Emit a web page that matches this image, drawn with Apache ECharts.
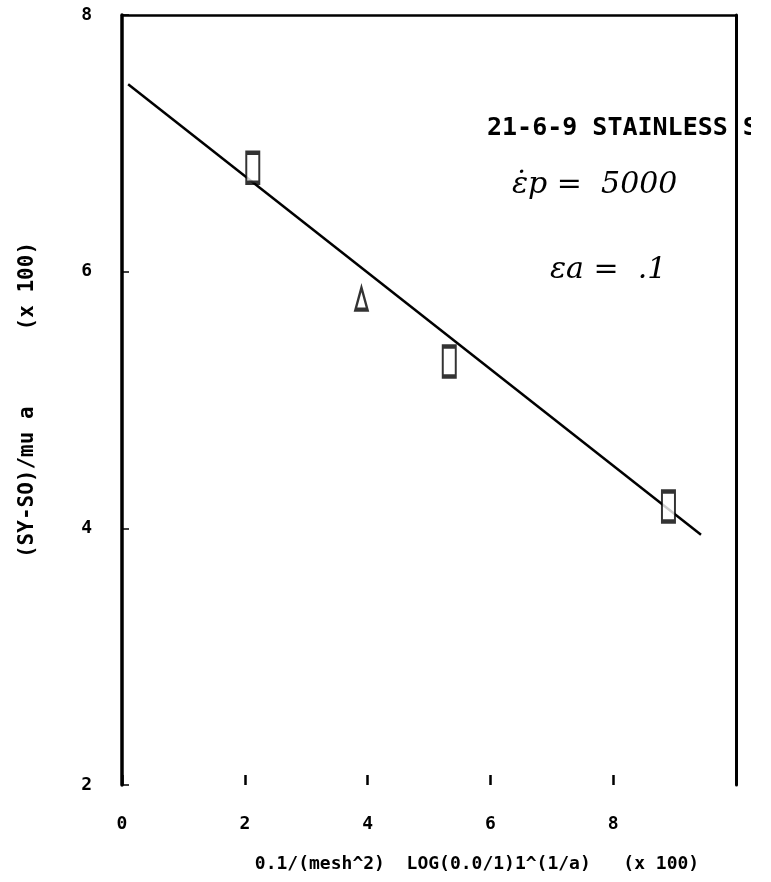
<!DOCTYPE html>
<html>
<head>
<meta charset="utf-8">
<title>21-6-9 Stainless</title>
<script src="https://cdn.jsdelivr.net/npm/echarts@6/dist/echarts.min.js"></script>
<style>
  html, body { margin: 0; padding: 0; background: #fff; }
  #chart { width: 771px; height: 882px; }
</style>
</head>
<body>
<div id="chart"></div>
<script>
// fitted line (two end points)
var fitX = [0.1, 9.43];
var fitY = [7.46, 3.95];
// measured points, box symbols
var boxX = [2.13, 5.33, 8.9];
var boxY = [6.81, 5.30, 4.17];
// measured point, triangle symbol
var triX = [3.9];
var triY = [5.79];
// tick labels
var xTickLabels = {0: '0', 2: '2', 4: '4', 6: '6', 8: '8', 10: ''};
var yTickLabels = {2: '2', 4: '4', 6: '6', 8: '8'};

var xName = '0.1/(mesh^2)  LOG(0.0/1)1^(1/a)   (x 100)';
var yName = '(SY-SO)/mu a      (x 100)';

function pairs(xs, ys) {
    var out = [];
    for (var i = 0; i < xs.length; i++) out.push([xs[i], ys[i]]);
    return out;
}

var dom = document.getElementById('chart');
var myChart = echarts.init(dom);
var font = '"DejaVu Sans Mono", monospace';

myChart.setOption({
    backgroundColor: '#fff',
    animation: false,
    grid: {
        left: 122,
        right: 35,
        top: 15,
        bottom: 97
    },
    xAxis: [
        {
            type: 'value',
            min: 0,
            max: 10,
            interval: 2,
            name: xName,
            nameLocation: 'middle',
            nameGap: 70,
            nameTextStyle: {
                color: '#000',
                fontFamily: font,
                fontWeight: 'bold',
                fontSize: 18,
                padding: [0, 0, 0, 96]
            },
            axisLine: { show: false },
            axisTick: {
                show: true,
                inside: true,
                length: 10,
                lineStyle: { color: '#000', width: 2.5 }
            },
            axisLabel: {
                margin: 30,
                color: '#000',
                fontFamily: font,
                fontWeight: 'bold',
                fontSize: 18,
                formatter: function (v) { return xTickLabels[v]; }
            },
            splitLine: { show: false }
        },
        {
            // top frame line
            type: 'value',
            position: 'top',
            min: 0,
            max: 10,
            axisLine: { show: true, onZero: false, lineStyle: { color: '#000', width: 2.5 } },
            axisTick: { show: false },
            axisLabel: { show: false },
            splitLine: { show: false }
        }
    ],
    yAxis: [
        {
            type: 'value',
            min: 2,
            max: 8,
            interval: 2,
            name: yName,
            nameLocation: 'middle',
            nameGap: 84,
            nameRotate: 90,
            nameTextStyle: {
                color: '#000',
                fontFamily: font,
                fontWeight: 'bold',
                fontSize: 21
            },
            axisLine: { show: true, onZero: false, lineStyle: { color: '#000', width: 3.5 } },
            axisTick: {
                show: true,
                inside: true,
                length: 7,
                lineStyle: { color: '#000', width: 1.5 }
            },
            axisLabel: {
                margin: 30,
                color: '#000',
                fontFamily: font,
                fontWeight: 'bold',
                fontSize: 18,
                formatter: function (v) { return yTickLabels[v]; }
            },
            splitLine: { show: false }
        },
        {
            // right frame line
            type: 'value',
            position: 'right',
            min: 2,
            max: 8,
            axisLine: { show: true, onZero: false, lineStyle: { color: '#000', width: 3 } },
            axisTick: { show: false },
            axisLabel: { show: false },
            splitLine: { show: false }
        }
    ],
    graphic: [
        {
            type: 'text',
            left: 487,
            top: 116,
            z: 10,
            style: {
                text: '21-6-9 STAINLESS S',
                fill: '#000',
                font: 'bold 25px "DejaVu Sans Mono", monospace'
            }
        },
        {
            // the title is cut off after the frame
            type: 'rect',
            shape: { x: 751, y: 105, width: 40, height: 45 },
            z: 11,
            style: { fill: '#fff' }
        },
        {
            type: 'text',
            left: 512,
            top: 170,
            z: 10,
            style: {
                text: '\u03B5\u0307p =  5000',
                fill: '#000',
                font: 'italic 30px "DejaVu Serif", serif'
            }
        },
        {
            type: 'text',
            left: 550,
            top: 255,
            z: 10,
            style: {
                text: '\u03B5a =  .1',
                fill: '#000',
                font: 'italic 30px "DejaVu Serif", serif'
            }
        }
    ],
    series: [
        {
            name: 'fit',
            type: 'line',
            data: pairs(fitX, fitY),
            symbol: 'none',
            lineStyle: { color: '#000', width: 2.5 }
        },
        {
            name: 'box',
            type: 'scatter',
            data: pairs(boxX, boxY),
            symbol: 'rect',
            symbolSize: [13, 30],
            itemStyle: { color: '#fff', borderColor: '#000', borderWidth: 3 },
            z: 3
        },
        {
            name: 'triangle',
            type: 'scatter',
            data: pairs(triX, triY),
            symbol: 'triangle',
            symbolSize: [12, 22],
            itemStyle: { color: '#fff', borderColor: '#000', borderWidth: 3 },
            z: 3
        }
    ]
});
window.addEventListener('resize', function () {
    myChart.resize();
});
</script>
</body>
</html>
